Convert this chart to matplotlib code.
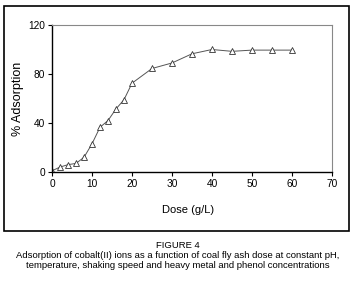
import matplotlib.pyplot as plt
from matplotlib.patches import Rectangle

plt.rcParams['font.family'] = ['Liberation Sans', 'DejaVu Sans']

# dose (g/L) and % adsorption
dose = [0, 2, 4, 6, 8, 10, 12, 14, 16, 18, 20, 25, 30, 35, 40, 45, 50, 55, 60]
adsorption = [1, 4, 6, 7, 12, 23, 36.5, 42, 51.5, 59, 72.5, 84.5, 89, 96.5, 100, 98.5, 99.5, 99.5, 99.5]
xticks = [0, 10, 20, 30, 40, 50, 60, 70]
yticks = [0, 40, 80, 120]

fig = plt.figure(figsize=(3.56, 2.83), dpi=100)
W, H = 356, 283
fig.patches.append(Rectangle((4 / W, 1 - 231 / H), 345 / W, 225 / H,
                             transform=fig.transFigure, fill=False,
                             edgecolor='black', linewidth=1.2))

ax = fig.add_axes([52 / W, 1 - 172 / H, 280 / W, 147 / H])
ax.plot(dose, adsorption, color='#555555', linewidth=0.7,
        marker='^', markersize=4.5, markerfacecolor='white',
        markeredgecolor='#333333', markeredgewidth=0.6)
ax.set_xlim(0, 70)
ax.set_ylim(0, 120)
ax.set_xticks(xticks)
ax.set_yticks(yticks)
ax.tick_params(labelsize=7.3, length=3, width=0.8, direction='out', pad=2)
for s in ['top', 'right']:
    ax.spines[s].set_color('#888888')
    ax.spines[s].set_linewidth(0.8)
for s in ['left', 'bottom']:
    ax.spines[s].set_linewidth(1.0)
ax.set_ylabel('% Adsorption', fontsize=9, labelpad=3)
fig.text(162 / W, 1 - 210 / H, 'Dose (g/L)', fontsize=8, ha='left', va='center')

fig.text(0.5, 1 - 245 / H, 'FIGURE 4', fontsize=6.8, ha='center', va='center')
fig.text(0.5, 1 - 256 / H,
         'Adsorption of cobalt(II) ions as a function of coal fly ash dose at constant pH,',
         fontsize=6.8, ha='center', va='center')
fig.text(0.5, 1 - 266 / H,
         'temperature, shaking speed and heavy metal and phenol concentrations',
         fontsize=6.8, ha='center', va='center')

fig.savefig('out.png', dpi=100)
